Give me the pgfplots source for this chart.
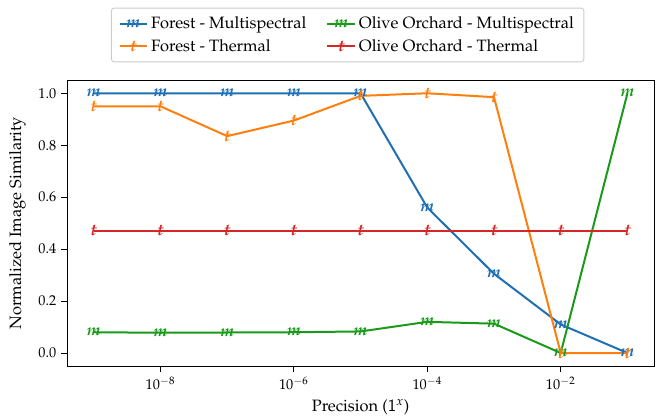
\documentclass[border=0pt]{standalone}
\usepackage[T1]{fontenc}
\usepackage{mathpazo}
\usepackage{pgfplots}
\pgfplotsset{compat=1.18}
\definecolor{cblue}{HTML}{1F6FB4}
\definecolor{corange}{HTML}{FF7F0E}
\definecolor{cgreen}{HTML}{1A9A1A}
\definecolor{cred}{HTML}{D62728}
\newcommand{\mk}[2]{\textcolor{#1}{\fontsize{11.5}{11.5}\selectfont\bfseries\itshape #2}}
\begin{document}
\begin{tikzpicture}
\begin{axis}[
  scale only axis,
  width=411pt, height=200pt,
  xmode=log,
  xmin=3.981e-10, xmax=0.2512,
  ymin=-0.05, ymax=1.05,
  xtick={1e-8,1e-6,1e-4,1e-2},
  minor xtick={},
  ytick={0,0.2,0.4,0.6,0.8,1.0},
  yticklabel style={/pgf/number format/fixed,/pgf/number format/precision=1,/pgf/number format/fixed zerofill},
  /pgf/number format/assume math mode=true,
  tick align=outside,
  xtick pos=bottom, ytick pos=left,
  major tick length=4pt,
  tick style={black, line width=0.6pt},
  axis line style={line width=0.6pt},
  ticklabel style={font=\fontsize{10}{12}\selectfont},
  label style={font=\fontsize{11.5}{13}\selectfont},
  ylabel style={yshift=2pt},
  xlabel={Precision ($\mathsf{1}^{x}$)},
  ylabel={Normalized Image Similarity},
  every axis plot/.append style={line width=1.4pt, mark=text, mark options={solid}},
  legend columns=2,
  legend cell align=left,
  legend style={at={(0.478,1)}, anchor=south, yshift=12.6pt,
    draw=black!20, rounded corners=2pt, line width=0.6pt,
    font=\fontsize{11.5}{13}\selectfont,
    /tikz/every even column/.append style={column sep=12pt},
    row sep=2pt, inner xsep=5pt, inner ysep=4pt},
  legend image code/.code={
    \draw[mark repeat=2,mark phase=2] plot coordinates {(0cm,0cm) (0.34cm,0cm) (0.68cm,0cm)};
  },
]
\addplot[cblue, text mark={\mk{cblue}{m}}] coordinates {
(1e-9,1.0) (1e-8,1.0) (1e-7,1.0) (1e-6,1.0) (1e-5,1.0) (1e-4,0.56) (1e-3,0.305) (1e-2,0.11) (1e-1,0.0)};
\addlegendentry{Forest - Multispectral}
\addplot[cgreen, text mark={\mk{cgreen}{m}}] coordinates {
(1e-9,0.08) (1e-8,0.078) (1e-7,0.079) (1e-6,0.08) (1e-5,0.083) (1e-4,0.12) (1e-3,0.113) (1e-2,0.0) (1e-1,1.0)};
\addlegendentry{Olive Orchard - Multispectral}
\addplot[corange, text mark={\mk{corange}{t}}] coordinates {
(1e-9,0.95) (1e-8,0.95) (1e-7,0.835) (1e-6,0.895) (1e-5,0.99) (1e-4,1.0) (1e-3,0.985) (1e-2,0.0) (1e-1,0.0)};
\addlegendentry{Forest - Thermal}
\addplot[cred, text mark={\mk{cred}{t}}] coordinates {
(1e-9,0.47) (1e-8,0.47) (1e-7,0.47) (1e-6,0.47) (1e-5,0.47) (1e-4,0.47) (1e-3,0.47) (1e-2,0.47) (1e-1,0.47)};
\addlegendentry{Olive Orchard - Thermal}
\end{axis}
\pgfresetboundingbox
\path (-46.9pt,-36.4pt) rectangle (414.4pt,256.2pt);
\end{tikzpicture}
\end{document}
